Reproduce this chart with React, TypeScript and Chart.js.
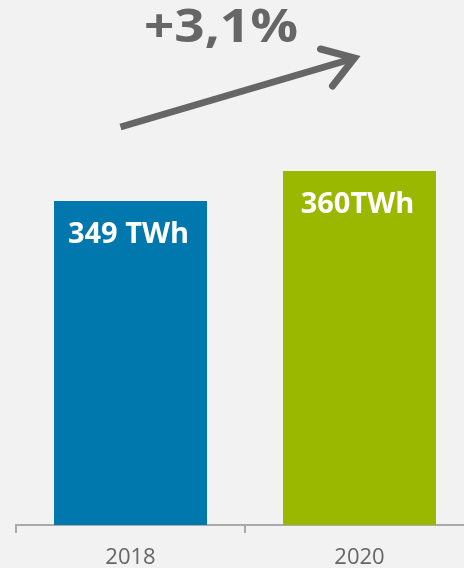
import React, { useEffect, useRef } from "react";
import { Chart, registerables } from "chart.js";

Chart.register(...registerables);

const categories = ["2018", "2020"];
const values = [349, 360];
const valueLabels = ["349 TWh", "360TWh"];
const changeLabel = "+3,1%";
const barColors = ["#0077ad", "#9bb800"];

const FONT = "'Open Sans', 'Noto Sans', sans-serif";

const overlayPlugin = {
  id: "overlay",
  afterDatasetsDraw(chart: any) {
    const ctx = chart.ctx;
    const meta = chart.getDatasetMeta(0);
    const bars = meta.data;
    ctx.save();
    // value labels inside bars
    ctx.fillStyle = "#ffffff";
    ctx.font = `bold 29px ${FONT}`;
    ctx.textAlign = "center";
    ctx.textBaseline = "alphabetic";
    bars.forEach((b: any, i: number) => {
      ctx.fillText(valueLabels[i], b.x - 2, b.y + 42);
    });
    // arrow
    const b1 = bars[0];
    const b2 = bars[1];
    const x0 = b1.x - 10;
    const y0 = b1.y - 74;
    const x1 = b2.x - 5;
    const y1 = b2.y - 113;
    ctx.strokeStyle = "#666666";
    ctx.lineWidth = 7;
    ctx.lineCap = "butt";
    ctx.beginPath();
    ctx.moveTo(x0, y0);
    ctx.lineTo(x1 - 3, y1 + 1);
    ctx.stroke();
    ctx.lineCap = "round";
    ctx.lineJoin = "miter";
    ctx.beginPath();
    ctx.moveTo(x1 - 34, y1 - 9);
    ctx.lineTo(x1, y1);
    ctx.lineTo(x1 - 22, y1 + 28);
    ctx.stroke();
    // change label
    ctx.fillStyle = "#666666";
    ctx.font = `bold 47px ${FONT}`;
    ctx.textAlign = "center";
    const cx = (b1.x + b2.x) / 2 - 24;
    ctx.translate(cx, y1 - 16);
    ctx.scale(1.13, 1);
    ctx.fillText(changeLabel, 0, 0);
    ctx.restore();
  },
};

export default function App() {
  const ref = useRef<HTMLCanvasElement | null>(null);
  useEffect(() => {
    if (!ref.current) return;
    const chart = new Chart(ref.current, {
      type: "bar",
      data: {
        labels: categories,
        datasets: [
          {
            data: values,
            backgroundColor: barColors,
            borderWidth: 0,
            categoryPercentage: 1,
            barPercentage: 0.668,
          },
        ],
      },
      options: {
        animation: false,
        responsive: false,
        devicePixelRatio: 1,
        layout: { padding: { left: 16, right: 0, top: 0, bottom: 0 } },
        plugins: {
          legend: { display: false },
          tooltip: { enabled: false },
        },
        scales: {
          x: {
            grid: {
              display: true,
              drawOnChartArea: false,
              drawTicks: true,
              tickLength: 8,
              color: "#aaaaaa",
              lineWidth: 2,
            },
            border: { display: true, color: "#aaaaaa", width: 2 },
            ticks: {
              color: "#666666",
              font: { family: FONT, size: 22 },
              padding: 12,
            },
            afterFit(scale: any) {
              scale.height = 43;
            },
          },
          y: {
            display: false,
            min: 230.2,
            max: 422.7,
          },
        },
      },
      plugins: [overlayPlugin],
    });
    return () => chart.destroy();
  }, []);
  return (
    <div
      style={{
        position: "fixed",
        left: 0,
        top: 0,
        width: 464,
        height: 568,
        overflow: "hidden",
        background: "#f2f2f2",
      }}
    >
      <canvas ref={ref} width={474} height={568} style={{ display: "block" }} />
    </div>
  );
}
